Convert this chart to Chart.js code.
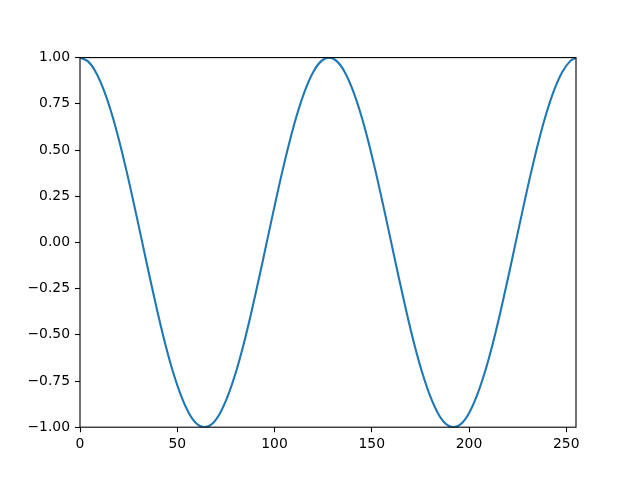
<!DOCTYPE html>
<html>
<head>
<meta charset="utf-8">
<script src="https://cdn.jsdelivr.net/npm/chart.js@4/dist/chart.umd.min.js"></script>
<style>
  html, body { margin: 0; padding: 0; background: #fff; }
  canvas { display: block; }
</style>
</head>
<body>
<canvas id="chart" width="640" height="480"></canvas>
<script>
// samples (every 4th x, plus the last one)
const xValues = [
  0, 4, 8, 12, 16, 20, 24, 28, 32, 36, 40, 44, 48, 52, 56, 60,
  64, 68, 72, 76, 80, 84, 88, 92, 96, 100, 104, 108, 112, 116, 120, 124,
  128, 132, 136, 140, 144, 148, 152, 156, 160, 164, 168, 172, 176, 180, 184, 188,
  192, 196, 200, 204, 208, 212, 216, 220, 224, 228, 232, 236, 240, 244, 248, 252,
  255
]
const yValues = [
  1.000, 0.981, 0.924, 0.831, 0.707, 0.556, 0.383, 0.195, 0.000, -0.195, -0.383, -0.556, -0.707, -0.831, -0.924, -0.981,
  -1.000, -0.981, -0.924, -0.831, -0.707, -0.556, -0.383, -0.195, 0.000, 0.195, 0.383, 0.556, 0.707, 0.831, 0.924, 0.981,
  1.000, 0.981, 0.924, 0.831, 0.707, 0.556, 0.383, 0.195, 0.000, -0.195, -0.383, -0.556, -0.707, -0.831, -0.924, -0.981,
  -1.000, -0.981, -0.924, -0.831, -0.707, -0.556, -0.383, -0.195, 0.000, 0.195, 0.383, 0.556, 0.707, 0.831, 0.924, 0.981,
  0.999
]
const xTicks = [0, 50, 100, 150, 200, 250]
const yTicks = [-1.00, -0.75, -0.50, -0.25, 0.00, 0.25, 0.50, 0.75, 1.00]

const font = { family: 'DejaVu Sans', size: 13.9 }

// matplotlib style box around the plot area
let frame = {
  id: 'frame',
  afterDraw (chart) {
    let a = chart.chartArea
    let ctx = chart.ctx
    ctx.save()
    ctx.strokeStyle = '#000'
    ctx.lineWidth = 1.1
    ctx.strokeRect(a.left, a.top, a.right - a.left, a.bottom - a.top)
    ctx.restore()
  }
}

new Chart(document.getElementById('chart'), {
  type: 'line',
  data: {
    datasets: [
      {
        data: xValues.map((x, i) => ({ x: x, y: yValues[i] })),
        borderColor: '#1f77b4',
        borderWidth: 2.1,
        pointRadius: 0,
        fill: false,
        tension: 0.35
      }
    ]
  },
  options: {
    responsive: false,
    animation: false,
    devicePixelRatio: 1,
    layout: { padding: { top: 57.6, right: 64, left: 0, bottom: 0 } },
    plugins: { legend: { display: false }, tooltip: { enabled: false } },
    scales: {
      x: {
        type: 'linear',
        min: 0,
        max: 255,
        afterBuildTicks (scale) {
          scale.ticks = xTicks.map(v => ({ value: v }))
        },
        afterFit (scale) {
          scale.height = 52.8
        },
        border: { display: false },
        grid: { drawOnChartArea: false, drawTicks: true, tickLength: 5, color: '#000', tickWidth: 1.1 },
        ticks: { color: '#000', font: font, padding: 4, maxRotation: 0, callback: v => String(v) }
      },
      y: {
        type: 'linear',
        min: -1,
        max: 1,
        afterBuildTicks (scale) {
          scale.ticks = yTicks.map(v => ({ value: v }))
        },
        afterFit (scale) {
          scale.width = 80
        },
        border: { display: false },
        grid: { drawOnChartArea: false, drawTicks: true, tickLength: 5, color: '#000', tickWidth: 1.1 },
        ticks: { color: '#000', font: font, padding: 5, callback: v => Number(v).toFixed(2).replace('-', '\u2212') }
      }
    }
  },
  plugins: [frame]
})
</script>
</body>
</html>
